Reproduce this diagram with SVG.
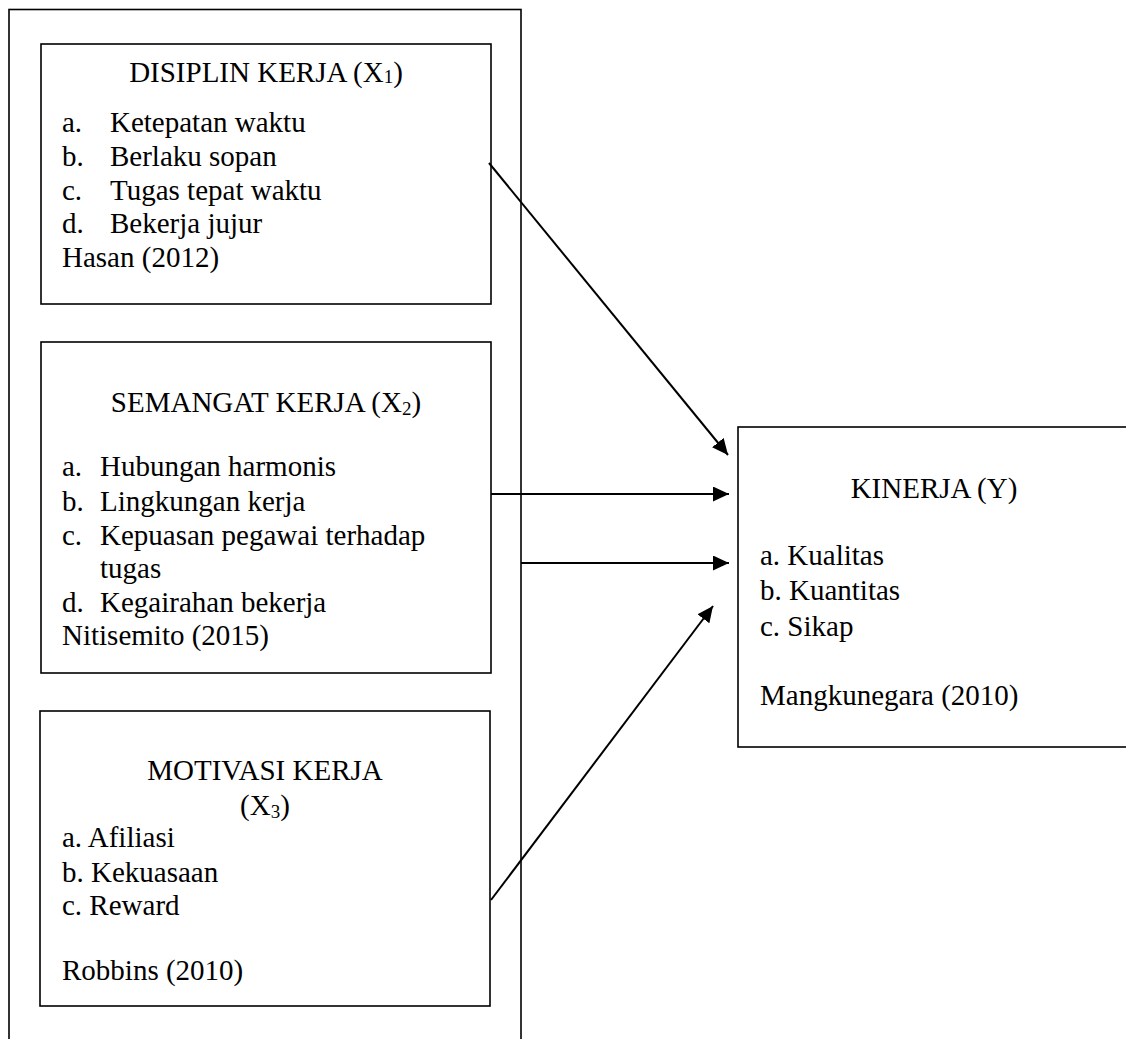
<svg xmlns="http://www.w3.org/2000/svg" width="1126" height="1039" viewBox="0 0 1126 1039">
<style>
.box{fill:none;stroke:#000;stroke-width:1.6}
.t{font-family:"Liberation Serif","Times New Roman",serif;font-size:29px;fill:#000}
.c{text-anchor:middle}
.sub{font-size:19px}
.con{stroke:#000;stroke-width:2;fill:none}
</style>
<defs>
<marker id="ah" markerUnits="userSpaceOnUse" markerWidth="16" markerHeight="15" refX="16" refY="7.5" orient="auto" viewBox="0 0 16 15">
<path d="M0,0 L16,7.5 L0,15 z" fill="#000"/>
</marker>
</defs>
<rect x="0" y="0" width="1126" height="1039" fill="#fff"/>
<g id="outer">
<rect class="box" x="9" y="9.5" width="512" height="1040"/>
</g>
<g id="disiplin">
<rect class="box" x="41" y="44" width="450" height="260"/>
<text class="t c" x="266" y="82">DISIPLIN KERJA (X<tspan class="sub" dy="1">1</tspan><tspan dy="-1">)</tspan></text>
<text class="t" x="62" y="132">a.</text><text class="t" x="110" y="132">Ketepatan waktu</text>
<text class="t" x="62" y="166">b.</text><text class="t" x="110" y="166">Berlaku sopan</text>
<text class="t" x="62" y="200">c.</text><text class="t" x="110" y="200">Tugas tepat waktu</text>
<text class="t" x="62" y="233">d.</text><text class="t" x="110" y="233">Bekerja jujur</text>
<text class="t" x="62" y="267">Hasan (2012)</text>
</g>
<g id="semangat">
<rect class="box" x="41" y="342" width="450" height="331"/>
<text class="t c" x="266" y="412">SEMANGAT KERJA (X<tspan class="sub" dy="3">2</tspan><tspan dy="-3">)</tspan></text>
<text class="t" x="62" y="476">a.</text><text class="t" x="100" y="476">Hubungan harmonis</text>
<text class="t" x="62" y="511">b.</text><text class="t" x="100" y="511">Lingkungan kerja</text>
<text class="t" x="62" y="545">c.</text><text class="t" x="100" y="545">Kepuasan pegawai terhadap</text>
<text class="t" x="100" y="578">tugas</text>
<text class="t" x="62" y="612">d.</text><text class="t" x="100" y="612">Kegairahan bekerja</text>
<text class="t" x="62" y="645">Nitisemito (2015)</text>
</g>
<g id="motivasi">
<rect class="box" x="40" y="711" width="450" height="295"/>
<text class="t c" x="265" y="780">MOTIVASI KERJA</text>
<text class="t c" x="265" y="815">(X<tspan class="sub" dy="3">3</tspan><tspan dy="-3">)</tspan></text>
<text class="t" x="62" y="847">a. Afiliasi</text>
<text class="t" x="62" y="882">b. Kekuasaan</text>
<text class="t" x="62" y="915">c. Reward</text>
<text class="t" x="62" y="980">Robbins (2010)</text>
</g>
<g id="kinerja">
<rect class="box" x="738" y="427" width="400" height="320"/>
<text class="t c" x="934" y="498">KINERJA (Y)</text>
<text class="t" x="760" y="565">a. Kualitas</text>
<text class="t" x="760" y="600">b. Kuantitas</text>
<text class="t" x="760" y="636">c. Sikap</text>
<text class="t" x="760" y="705">Mangkunegara (2010)</text>
</g>
<g id="connectors">
<line class="con" x1="489" y1="163" x2="728" y2="455" marker-end="url(#ah)"/>
<line class="con" x1="491" y1="494" x2="729" y2="494" marker-end="url(#ah)"/>
<line class="con" x1="521" y1="563" x2="729" y2="563" marker-end="url(#ah)"/>
<line class="con" x1="491" y1="900" x2="713" y2="606" marker-end="url(#ah)"/>
</g>
</svg>
